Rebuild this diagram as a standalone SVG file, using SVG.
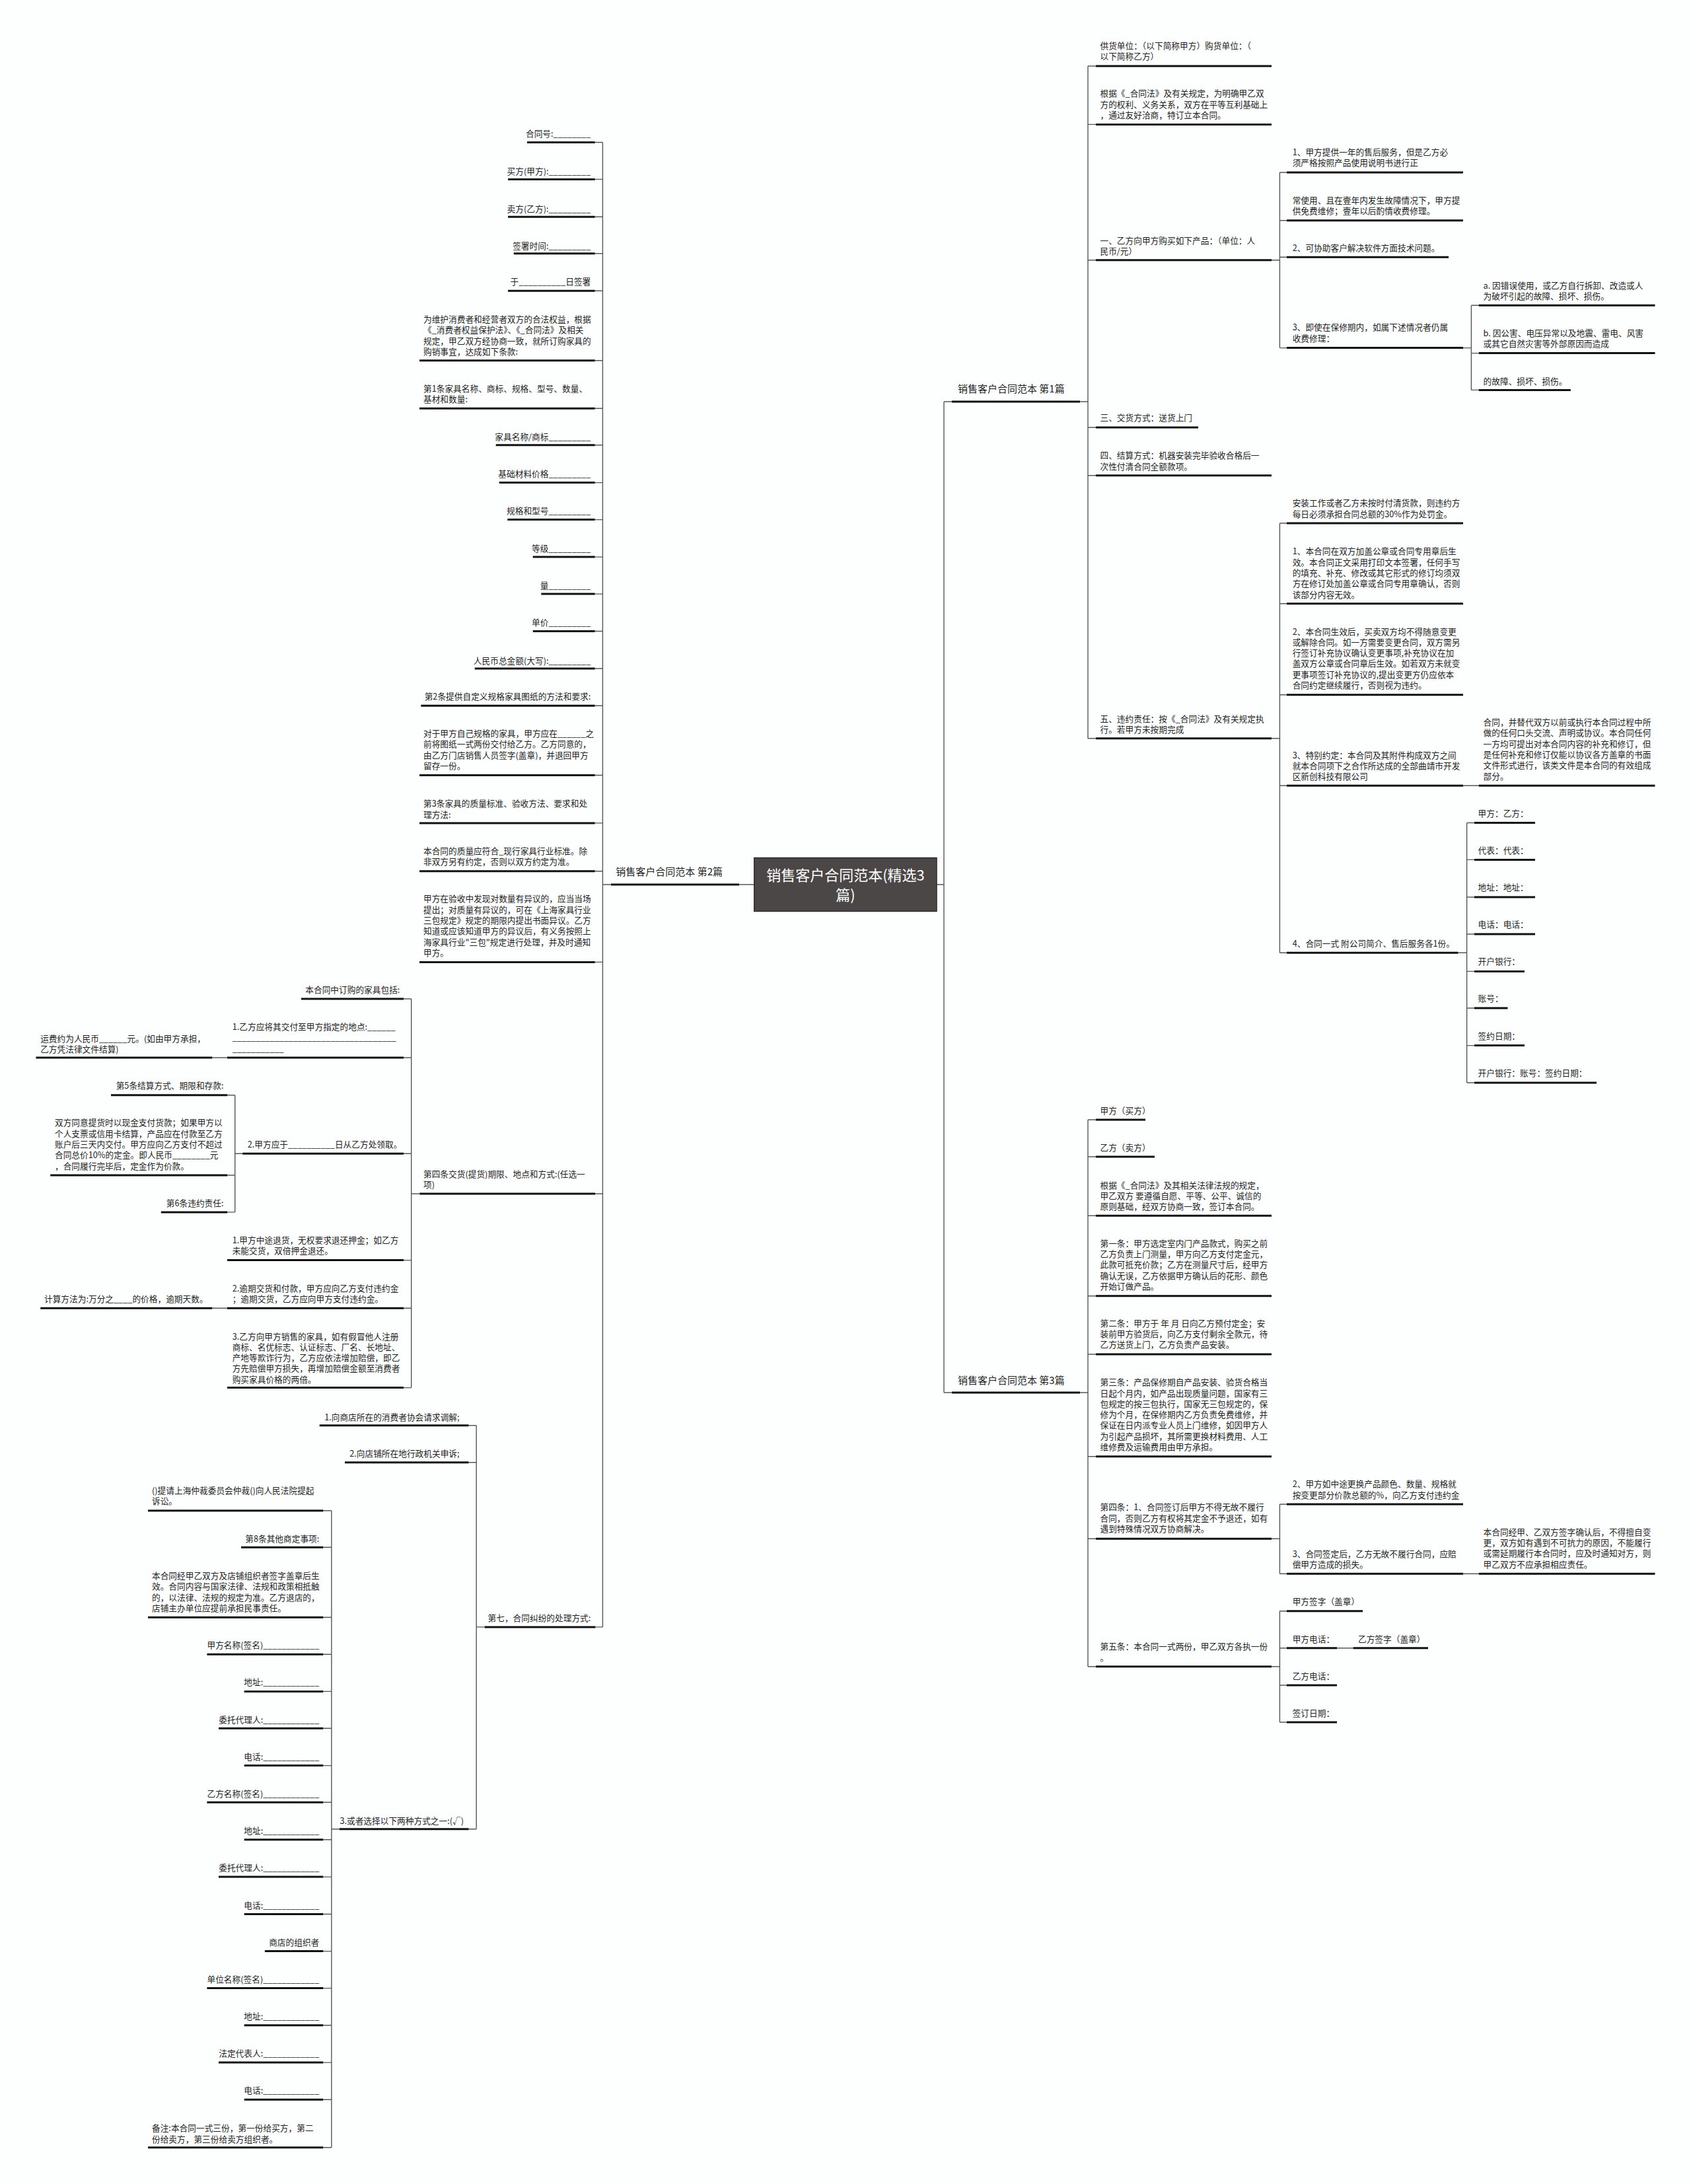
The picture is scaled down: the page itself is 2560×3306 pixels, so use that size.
<svg xmlns="http://www.w3.org/2000/svg" width="2560" height="3306" viewBox="0 0 2560 3306">
<style>
text{font-family:"Noto Sans CJK SC","Noto Sans",sans-serif;font-size:12.7px;fill:#1e1e1e}
.e{text-anchor:end}
.b{font-size:15px}
.c{font-size:22px;fill:#ffffff;text-anchor:middle}
.ul{stroke:#111;stroke-width:3;fill:none}
.cn{stroke:#555;stroke-width:1.4;fill:none}
</style>
<rect x="0" y="0" width="2560" height="3306" fill="#fdfefe"/>
<g id="connectors">
<path class="cn" d="M1141.8,1339H1119 M1418,1339H1429 M1429,608V2108 M1429,608H1441 M1429,2108H1441"/>
<path class="cn" d="M925,1339H912.4 M912.4,215.5V2462.9 M900.7,215.5H912.4 M900.7,271.4H912.4 M900.7,328.2H912.4 M900.7,383.8H912.4 M900.7,440.2H912.4 M900.7,545.8H912.4 M900.7,618.2H912.4 M900.7,673.8H912.4 M900.7,730.6H912.4 M900.7,786.6H912.4 M900.7,843.1H912.4 M900.7,899.1H912.4 M900.7,955.5H912.4 M900.7,1012H912.4 M900.7,1068.3H912.4 M900.7,1173.5H912.4 M900.7,1245.9H912.4 M900.7,1318.7H912.4 M900.7,1456.4H912.4 M900.7,1807H912.4 M900.7,2462.9H912.4"/>
<path class="cn" d="M635.3,1807H622.7 M622.7,1512V2100.6 M622.7,1512H611.2 M622.7,1601H611.2 M622.7,1746.3H611.2 M622.7,1907.6H611.2 M622.7,1980.2H611.2 M622.7,2100.6H611.2 M344,1601H321.3 M367.2,1746.3H355.7 M355.7,1657.8V1834.9 M355.7,1657.8H344.2 M355.7,1779H344.2 M355.7,1834.9H344.2 M344,1980.2H321.3"/>
<path class="cn" d="M733.7,2462.9H721.2 M721.2,2157.8V2768.8 M721.2,2157.8H709.5 M721.2,2213.7H709.5 M721.2,2768.8H709.5 M514,2768.8H501.9 M501.9,2286.8V3250.8 M501.9,2286.8H489.3 M501.9,2342.3H489.3 M501.9,2448.3H489.3 M501.9,2504.2H489.3 M501.9,2560.4H489.3 M501.9,2616.3H489.3 M501.9,2672.6H489.3 M501.9,2728.2H489.3 M501.9,2784.7H489.3 M501.9,2841.1H489.3 M501.9,2897.5H489.3 M501.9,2953.6H489.3 M501.9,3009.6H489.3 M501.9,3065.7H489.3 M501.9,3122.1H489.3 M501.9,3178.2H489.3 M501.9,3250.8H489.3"/>
<path class="cn" d="M1635,608H1647 M1647,100V1117.7 M1647,100H1659 M1647,188.4H1659 M1647,393.8H1659 M1647,647H1659 M1647,719.7H1659 M1647,1117.7H1659 M1925,393.8H1937.4 M1937.4,261V526.6 M1937.4,261H1948 M1937.4,333.7H1948 M1937.4,389.3H1948 M1937.4,526.6H1948 M2215,526.6H2227.4 M2227.4,462.3V590.4 M2227.4,462.3H2238.7 M2227.4,534.6H2238.7 M2227.4,590.4H2238.7"/>
<path class="cn" d="M1925,1117.7H1937.4 M1937.4,792V1442.2 M1937.4,792H1948 M1937.4,913.7H1948 M1937.4,1051.7H1948 M1937.4,1189.2H1948 M1937.4,1442.2H1948 M2215,1189.2H2238.7 M2207.5,1442.2H2220.6 M2220.6,1245.5V1639 M2220.6,1245.5H2232 M2220.6,1301.4H2232 M2220.6,1358H2232 M2220.6,1414H2232 M2220.6,1470.4H2232 M2220.6,1526H2232 M2220.6,1582.6H2232 M2220.6,1639H2232"/>
<path class="cn" d="M1635,2108H1647 M1647,1695V2522.7 M1647,1695H1659 M1647,1751H1659 M1647,1840.3H1659 M1647,1961.7H1659 M1647,2050H1659 M1647,2204.7H1659 M1647,2329.3H1659 M1647,2522.7H1659 M1925,2329.3H1937.4 M1937.4,2277V2382.3 M1937.4,2277H1948 M1937.4,2382.3H1948 M2215,2382.3H2238.7 M1925,2522.7H1937.4 M1937.4,2438.7V2607 M1937.4,2438.7H1948 M1937.4,2494.7H1948 M1937.4,2551H1948 M1937.4,2607H1948 M2024,2494.7H2048.6"/>
</g>
<g id="root">
<rect x="1141.8" y="1298.5" width="276.2" height="81" fill="#4b4747" stroke="#2e2b2b" stroke-width="1.5"/>
<text class="c"><tspan x="1280" y="1333">销售客户合同范本(精选3</tspan><tspan x="1280" y="1363.4">篇)</tspan></text>
</g>
<g id="branch1"><text class="b" x="1450" y="594">销售客户合同范本 第1篇</text><line class="ul" x1="1441" y1="608" x2="1635" y2="608"/></g>
<g id="branch2"><text class="b" x="932.3" y="1325">销售客户合同范本 第2篇</text><line class="ul" x1="925" y1="1339" x2="1119" y2="1339"/></g>
<g id="branch3"><text class="b" x="1450" y="2095.4">销售客户合同范本 第3篇</text><line class="ul" x1="1441" y1="2108" x2="1635" y2="2108"/></g>

<g id="r1"><text><tspan x="1665.5" y="74">供货单位：（以下简称甲方）购货单位：（</tspan><tspan x="1665.5" y="90">以下简称乙方）</tspan></text><line class="ul" x1="1659" y1="100" x2="1925" y2="100"/></g>
<g id="r2"><text><tspan x="1665.5" y="146.3">根据《_合同法》及有关规定，为明确甲乙双</tspan><tspan x="1665.5" y="162.6">方的权利、义务关系，双方在平等互利基础上</tspan><tspan x="1665.5" y="178.9">，通过友好洽商，特订立本合同。</tspan></text><line class="ul" x1="1659" y1="188.4" x2="1925" y2="188.4"/></g>
<g id="r3"><text><tspan x="1665.5" y="368.8">一、乙方向甲方购买如下产品：（单位：人</tspan><tspan x="1665.5" y="385.1">民币/元）</tspan></text><line class="ul" x1="1659" y1="393.8" x2="1925" y2="393.8"/></g>
<g id="r3a"><text><tspan x="1956.7" y="235">1、甲方提供一年的售后服务，但是乙方必</tspan><tspan x="1956.7" y="251.3">须严格按照产品使用说明书进行正</tspan></text><line class="ul" x1="1948" y1="261" x2="2215" y2="261"/></g>
<g id="r3b"><text><tspan x="1956.7" y="307.5">常使用、且在壹年内发生故障情况下，甲方提</tspan><tspan x="1956.7" y="323.8">供免费维修；壹年以后酌情收费修理。</tspan></text><line class="ul" x1="1948" y1="333.7" x2="2215" y2="333.7"/></g>
<g id="r3c"><text x="1956.7" y="379.9">2、可协助客户解决软件方面技术问题。</text><line class="ul" x1="1948" y1="389.3" x2="2193" y2="389.3"/></g>
<g id="r3d"><text><tspan x="1956.7" y="500.2">3、即使在保修期内，如属下述情况者仍属</tspan><tspan x="1956.7" y="516.5">收费修理：</tspan></text><line class="ul" x1="1948" y1="526.6" x2="2215" y2="526.6"/></g>
<g id="r3d1"><text><tspan x="2245.6" y="436.5">a. 因错误使用，或乙方自行拆卸、改造或人</tspan><tspan x="2245.6" y="452.8">为破坏引起的故障、损坏、损伤。</tspan></text><line class="ul" x1="2238.7" y1="462.3" x2="2505.5" y2="462.3"/></g>
<g id="r3d2"><text><tspan x="2245.6" y="508.9">b. 因公害、电压异常以及地震、雷电、风害</tspan><tspan x="2245.6" y="525.2">或其它自然灾害等外部原因而造成</tspan></text><line class="ul" x1="2238.7" y1="534.6" x2="2505.5" y2="534.6"/></g>
<g id="r3d3"><text x="2245.6" y="581.5">的故障、损坏、损伤。</text><line class="ul" x1="2238.7" y1="590.4" x2="2377.8" y2="590.4"/></g>
<g id="r4"><text x="1665.5" y="637.3">三、交货方式：送货上门</text><line class="ul" x1="1659" y1="647" x2="1814" y2="647"/></g>
<g id="r5"><text><tspan x="1665.5" y="694.3">四、结算方式：机器安装完毕验收合格后一</tspan><tspan x="1665.5" y="710.6">次性付清合同全额款项。</tspan></text><line class="ul" x1="1659" y1="719.7" x2="1925" y2="719.7"/></g>
<g id="r6"><text><tspan x="1665.5" y="1092.5">五、违约责任：按《_合同法》及有关规定执</tspan><tspan x="1665.5" y="1108.8">行。若甲方未按期完成</tspan></text><line class="ul" x1="1659" y1="1117.7" x2="1925" y2="1117.7"/></g>
<g id="r6a"><text><tspan x="1956.7" y="766.3">安装工作或者乙方未按时付清货款，则违约方</tspan><tspan x="1956.7" y="782.6">每日必须承担合同总额的30%作为处罚金。</tspan></text><line class="ul" x1="1948" y1="792" x2="2215" y2="792"/></g>
<g id="r6b"><text><tspan x="1956.7" y="839.3">1、本合同在双方加盖公章或合同专用章后生</tspan><tspan x="1956.7" y="855.6">效。本合同正文采用打印文本签署，任何手写</tspan><tspan x="1956.7" y="871.9">的填充、补充、修改或其它形式的修订均须双</tspan><tspan x="1956.7" y="888.2">方在修订处加盖公章或合同专用章确认，否则</tspan><tspan x="1956.7" y="904.5">该部分内容无效。</tspan></text><line class="ul" x1="1948" y1="913.7" x2="2215" y2="913.7"/></g>
<g id="r6c"><text><tspan x="1956.7" y="960.5">2、本合同生效后，买卖双方均不得随意变更</tspan><tspan x="1956.7" y="976.8">或解除合同。如一方需要变更合同，双方需另</tspan><tspan x="1956.7" y="993.1">行签订补充协议确认变更事项,补充协议在加</tspan><tspan x="1956.7" y="1009.4">盖双方公章或合同章后生效。如若双方未就变</tspan><tspan x="1956.7" y="1025.7">更事项签订补充协议的,提出变更方仍应依本</tspan><tspan x="1956.7" y="1042">合同约定继续履行，否则视为违约。</tspan></text><line class="ul" x1="1948" y1="1051.7" x2="2215" y2="1051.7"/></g>
<g id="r6d"><text><tspan x="1956.7" y="1147.8">3、特别约定：本合同及其附件构成双方之间</tspan><tspan x="1956.7" y="1164.1">就本合同项下之合作所达成的全部曲靖市开发</tspan><tspan x="1956.7" y="1180.4">区新创科技有限公司</tspan></text><line class="ul" x1="1948" y1="1189.2" x2="2215" y2="1189.2"/></g>
<g id="r6d1"><text><tspan x="2245.6" y="1098">合同，并替代双方以前或执行本合同过程中所</tspan><tspan x="2245.6" y="1114.3">做的任何口头交流、声明或协议。本合同任何</tspan><tspan x="2245.6" y="1130.6">一方均可提出对本合同内容的补充和修订，但</tspan><tspan x="2245.6" y="1146.9">是任何补充和修订仅能以协议各方盖章的书面</tspan><tspan x="2245.6" y="1163.2">文件形式进行，该类文件是本合同的有效组成</tspan><tspan x="2245.6" y="1179.5">部分。</tspan></text><line class="ul" x1="2238.7" y1="1189.2" x2="2505.5" y2="1189.2"/></g>
<g id="r6e"><text x="1956.7" y="1432.5">4、合同一式 附公司简介、售后服务各1份。</text><line class="ul" x1="1948" y1="1442.2" x2="2207.5" y2="1442.2"/></g>
<g id="r6e1"><text x="2237.6" y="1235.7">甲方：乙方：</text><line class="ul" x1="2232" y1="1245.5" x2="2324" y2="1245.5"/></g>
<g id="r6e2"><text x="2237.6" y="1292">代表：代表：</text><line class="ul" x1="2232" y1="1301.4" x2="2324" y2="1301.4"/></g>
<g id="r6e3"><text x="2237.6" y="1348.3">地址：地址：</text><line class="ul" x1="2232" y1="1358" x2="2324" y2="1358"/></g>
<g id="r6e4"><text x="2237.6" y="1404">电话：电话：</text><line class="ul" x1="2232" y1="1414" x2="2324" y2="1414"/></g>
<g id="r6e5"><text x="2237.6" y="1460.3">开户银行：</text><line class="ul" x1="2232" y1="1470.4" x2="2308" y2="1470.4"/></g>
<g id="r6e6"><text x="2237.6" y="1516.2">账号：</text><line class="ul" x1="2232" y1="1526" x2="2282.5" y2="1526"/></g>
<g id="r6e7"><text x="2237.6" y="1572.9">签约日期：</text><line class="ul" x1="2232" y1="1582.6" x2="2308" y2="1582.6"/></g>
<g id="r6e8"><text x="2237.6" y="1629.2">开户银行：账号：签约日期：</text><line class="ul" x1="2232" y1="1639" x2="2417" y2="1639"/></g>

<g id="t1"><text x="1665.5" y="1685.5">甲方（买方）</text><line class="ul" x1="1659" y1="1695" x2="1734" y2="1695"/></g>
<g id="t2"><text x="1665.5" y="1742.2">乙方（卖方）</text><line class="ul" x1="1659" y1="1751" x2="1748" y2="1751"/></g>
<g id="t3"><text><tspan x="1665.5" y="1798.5">根据《_合同法》及其相关法律法规的规定，</tspan><tspan x="1665.5" y="1814.8">甲乙双方 要遵循自愿、平等、公平、诚信的</tspan><tspan x="1665.5" y="1831.1">原则基础，经双方协商一致，签订本合同。</tspan></text><line class="ul" x1="1659" y1="1840.3" x2="1925" y2="1840.3"/></g>
<g id="t4"><text><tspan x="1665.5" y="1886.8">第一条：甲方选定室内门产品款式，购买之前</tspan><tspan x="1665.5" y="1903.1">乙方负责上门测量，甲方向乙方支付定金元，</tspan><tspan x="1665.5" y="1919.4">此款可抵充价款；乙方在测量尺寸后，经甲方</tspan><tspan x="1665.5" y="1935.7">确认无误，乙方依据甲方确认后的花形、颜色</tspan><tspan x="1665.5" y="1952">开始订做产品。</tspan></text><line class="ul" x1="1659" y1="1961.7" x2="1925" y2="1961.7"/></g>
<g id="t5"><text><tspan x="1665.5" y="2007.8">第二条：甲方于 年 月 日向乙方预付定金；安</tspan><tspan x="1665.5" y="2024.1">装前甲方验货后，向乙方支付剩余全款元，待</tspan><tspan x="1665.5" y="2040.4">乙方送货上门，乙方负责产品安装。</tspan></text><line class="ul" x1="1659" y1="2050" x2="1925" y2="2050"/></g>
<g id="t6"><text><tspan x="1665.5" y="2097.2">第三条：产品保修期自产品安装、验货合格当</tspan><tspan x="1665.5" y="2113.5">日起个月内，如产品出现质量问题，国家有三</tspan><tspan x="1665.5" y="2129.8">包规定的按三包执行，国家无三包规定的，保</tspan><tspan x="1665.5" y="2146.1">修为个月，在保修期内乙方负责免费维修，并</tspan><tspan x="1665.5" y="2162.4">保证在日内派专业人员上门维修，如因甲方人</tspan><tspan x="1665.5" y="2178.7">为引起产品损坏，其所需更换材料费用、人工</tspan><tspan x="1665.5" y="2195">维修费及运输费用由甲方承担。</tspan></text><line class="ul" x1="1659" y1="2204.7" x2="1925" y2="2204.7"/></g>
<g id="t7"><text><tspan x="1665.5" y="2286.2">第四条：1、合同签订后甲方不得无故不履行</tspan><tspan x="1665.5" y="2302.5">合同，否则乙方有权将其定金不予退还，如有</tspan><tspan x="1665.5" y="2318.8">遇到特殊情况双方协商解决。</tspan></text><line class="ul" x1="1659" y1="2329.3" x2="1925" y2="2329.3"/></g>
<g id="t7a"><text><tspan x="1956.7" y="2251.2">2、甲方如中途更换产品颜色、数量、规格就</tspan><tspan x="1956.7" y="2267.5">按变更部分价款总额的%，向乙方支付违约金</tspan></text><line class="ul" x1="1948" y1="2277" x2="2215" y2="2277"/></g>
<g id="t7b"><text><tspan x="1956.7" y="2356.8">3、合同签定后，乙方无故不履行合同，应赔</tspan><tspan x="1956.7" y="2373.1">偿甲方造成的损失。</tspan></text><line class="ul" x1="1948" y1="2382.3" x2="2215" y2="2382.3"/></g>
<g id="t7b1"><text><tspan x="2245.6" y="2323.8">本合同经甲、乙双方签字确认后，不得擅自变</tspan><tspan x="2245.6" y="2340.1">更，双方如有遇到不可抗力的原因，不能履行</tspan><tspan x="2245.6" y="2356.4">或需延期履行本合同时，应及时通知对方，则</tspan><tspan x="2245.6" y="2372.7">甲乙双方不应承担相应责任。</tspan></text><line class="ul" x1="2238.7" y1="2382.3" x2="2505.5" y2="2382.3"/></g>
<g id="t8"><text><tspan x="1665.5" y="2497.2">第五条：本合同一式两份，甲乙双方各执一份</tspan><tspan x="1665.5" y="2513.5">。</tspan></text><line class="ul" x1="1659" y1="2522.7" x2="1925" y2="2522.7"/></g>
<g id="t8a"><text x="1956.7" y="2429.2">甲方签字（盖章）</text><line class="ul" x1="1948" y1="2438.7" x2="2063" y2="2438.7"/></g>
<g id="t8b"><text x="1956.7" y="2485.5">甲方电话：</text><line class="ul" x1="1948" y1="2494.7" x2="2024" y2="2494.7"/></g>
<g id="t8b1"><text x="2056" y="2485.5">乙方签字（盖章）</text><line class="ul" x1="2048.6" y1="2494.7" x2="2162" y2="2494.7"/></g>
<g id="t8c"><text x="1956.7" y="2541.8">乙方电话：</text><line class="ul" x1="1948" y1="2551" x2="2024" y2="2551"/></g>
<g id="t8d"><text x="1956.7" y="2598.2">签订日期：</text><line class="ul" x1="1948" y1="2607" x2="2024" y2="2607"/></g>

<g id="l1"><text class="e" x="894.3" y="207.3">合同号:________</text><line class="ul" x1="798" y1="215.5" x2="900.7" y2="215.5"/></g>
<g id="l2"><text class="e" x="894.3" y="263.7">买方(甲方):_________</text><line class="ul" x1="769" y1="271.4" x2="900.7" y2="271.4"/></g>
<g id="l3"><text class="e" x="894.3" y="320.5">卖方(乙方):_________</text><line class="ul" x1="769" y1="328.2" x2="900.7" y2="328.2"/></g>
<g id="l4"><text class="e" x="894.3" y="376.5">签署时间:_________</text><line class="ul" x1="777.7" y1="383.8" x2="900.7" y2="383.8"/></g>
<g id="l5"><text class="e" x="894.3" y="431.2">于__________日签署</text><line class="ul" x1="769" y1="440.2" x2="900.7" y2="440.2"/></g>
<g id="l6"><text><tspan x="641" y="488">为维护消费者和经营者双方的合法权益，根据</tspan><tspan x="641" y="504.3">《_消费者权益保护法》、《_合同法》及相关</tspan><tspan x="641" y="520.6">规定，甲乙双方经协商一致，就所订购家具的</tspan><tspan x="641" y="536.9">购销事宜，达成如下条款:</tspan></text><line class="ul" x1="635" y1="545.8" x2="900.7" y2="545.8"/></g>
<g id="l7"><text><tspan x="641" y="592.6">第1条家具名称、商标、规格、型号、数量、</tspan><tspan x="641" y="608.9">基材和数量:</tspan></text><line class="ul" x1="635" y1="618.2" x2="900.7" y2="618.2"/></g>
<g id="l8"><text class="e" x="894.3" y="665.7">家具名称/商标_________</text><line class="ul" x1="750.7" y1="673.8" x2="900.7" y2="673.8"/></g>
<g id="l9"><text class="e" x="894.3" y="721.6">基础材料价格_________</text><line class="ul" x1="755.7" y1="730.6" x2="900.7" y2="730.6"/></g>
<g id="l10"><text class="e" x="894.3" y="777.6">规格和型号_________</text><line class="ul" x1="768.3" y1="786.6" x2="900.7" y2="786.6"/></g>
<g id="l11"><text class="e" x="894.3" y="835">等级_________</text><line class="ul" x1="806.7" y1="843.1" x2="900.7" y2="843.1"/></g>
<g id="l12"><text class="e" x="894.3" y="891">量_________</text><line class="ul" x1="819.3" y1="899.1" x2="900.7" y2="899.1"/></g>
<g id="l13"><text class="e" x="894.3" y="947.4">单价_________</text><line class="ul" x1="806.7" y1="955.5" x2="900.7" y2="955.5"/></g>
<g id="l14"><text class="e" x="894.3" y="1004.5">人民币总金额(大写):_________</text><line class="ul" x1="718.7" y1="1012" x2="900.7" y2="1012"/></g>
<g id="l15"><text class="e" x="894.3" y="1058.5">第2条提供自定义规格家具图纸的方法和要求:</text><line class="ul" x1="637.3" y1="1068.3" x2="900.7" y2="1068.3"/></g>
<g id="l16"><text><tspan x="641" y="1114.9">对于甲方自己规格的家具，甲方应在______之</tspan><tspan x="641" y="1131.2">前将图纸一式两份交付给乙方。乙方同意的，</tspan><tspan x="641" y="1147.5">由乙方门店销售人员签字(盖章)，并退回甲方</tspan><tspan x="641" y="1163.8">留存一份。</tspan></text><line class="ul" x1="635" y1="1173.5" x2="900.7" y2="1173.5"/></g>
<g id="l17"><text><tspan x="641" y="1221.4">第3条家具的质量标准、验收方法、要求和处</tspan><tspan x="641" y="1237.7">理方法:</tspan></text><line class="ul" x1="635" y1="1245.9" x2="900.7" y2="1245.9"/></g>
<g id="l18"><text><tspan x="641" y="1292.5">本合同的质量应符合_现行家具行业标准。除</tspan><tspan x="641" y="1308.8">非双方另有约定，否则以双方约定为准。</tspan></text><line class="ul" x1="635" y1="1318.7" x2="900.7" y2="1318.7"/></g>
<g id="l19"><text><tspan x="641" y="1365.3">甲方在验收中发现对数量有异议的，应当当场</tspan><tspan x="641" y="1381.6">提出；对质量有异议的，可在《上海家具行业</tspan><tspan x="641" y="1397.9">三包规定》规定的期限内提出书面异议。乙方</tspan><tspan x="641" y="1414.2">知道或应该知道甲方的异议后，有义务按照上</tspan><tspan x="641" y="1430.5">海家具行业"三包"规定进行处理，并及时通知</tspan><tspan x="641" y="1446.8">甲方。</tspan></text><line class="ul" x1="635" y1="1456.4" x2="900.7" y2="1456.4"/></g>
<g id="l20"><text><tspan x="641" y="1781.5">第四条交货(提货)期限、地点和方式:(任选一</tspan><tspan x="641" y="1797.8">项)</tspan></text><line class="ul" x1="635.3" y1="1807" x2="901" y2="1807"/></g>
<g id="l20a"><text class="e" x="605.4" y="1503.1">本合同中订购的家具包括:</text><line class="ul" x1="456" y1="1512" x2="611.2" y2="1512"/></g>
<g id="l20b"><text><tspan x="351.7" y="1559">1.乙方应将其交付至甲方指定的地点:______</tspan><tspan x="351.7" y="1575.3">___________________________________</tspan><tspan x="351.7" y="1591.6">___________</tspan></text><line class="ul" x1="344" y1="1601" x2="611.2" y2="1601"/></g>
<g id="l20b1"><text><tspan x="61.2" y="1576.5">运费约为人民币______元。(如由甲方承担，</tspan><tspan x="61.2" y="1592.8">乙方凭法律文件结算)</tspan></text><line class="ul" x1="54.4" y1="1601" x2="321.3" y2="1601"/></g>
<g id="l20c"><text x="374.7" y="1736.9">2.甲方应于__________日从乙方处领取。</text><line class="ul" x1="367.2" y1="1746.3" x2="611.2" y2="1746.3"/></g>
<g id="l20c1"><text class="e" x="338.5" y="1648.4">第5条结算方式、期限和存款:</text><line class="ul" x1="168" y1="1657.8" x2="344.2" y2="1657.8"/></g>
<g id="l20c2"><text><tspan x="83" y="1704.3">双方同意提货时以现金支付货款；如果甲方以</tspan><tspan x="83" y="1720.6">个人支票或信用卡结算，产品应在付款至乙方</tspan><tspan x="83" y="1736.9">账户后三天内交付。甲方应向乙方支付不超过</tspan><tspan x="83" y="1753.2">合同总价10%的定金。即人民币________元</tspan><tspan x="83" y="1769.5">，合同履行完毕后，定金作为价款。</tspan></text><line class="ul" x1="76.2" y1="1779" x2="344.2" y2="1779"/></g>
<g id="l20c3"><text class="e" x="338.5" y="1825.5">第6条违约责任:</text><line class="ul" x1="243.8" y1="1834.9" x2="344.2" y2="1834.9"/></g>
<g id="l20d"><text><tspan x="351.7" y="1881.8">1.甲方中途退货，无权要求退还押金；如乙方</tspan><tspan x="351.7" y="1898.1">未能交货，双倍押金退还。</tspan></text><line class="ul" x1="344" y1="1907.6" x2="611.2" y2="1907.6"/></g>
<g id="l20e"><text><tspan x="351.7" y="1954.9">2.逾期交货和付款，甲方应向乙方支付违约金</tspan><tspan x="351.7" y="1971.2">；逾期交货，乙方应向甲方支付违约金。</tspan></text><line class="ul" x1="344" y1="1980.2" x2="611.2" y2="1980.2"/></g>
<g id="l20e1"><text x="67" y="1971.2">计算方法为:万分之____的价格，逾期天数。</text><line class="ul" x1="61.2" y1="1980.2" x2="321.3" y2="1980.2"/></g>
<g id="l20f"><text><tspan x="351.7" y="2027.5">3.乙方向甲方销售的家具，如有假冒他人注册</tspan><tspan x="351.7" y="2043.8">商标、名优标志、认证标志、厂名、长地址、</tspan><tspan x="351.7" y="2060.1">产地等欺诈行为，乙方应依法增加赔偿，即乙</tspan><tspan x="351.7" y="2076.4">方先赔偿甲方损失，再增加赔偿金额至消费者</tspan><tspan x="351.7" y="2092.7">购买家具价格的两倍。</tspan></text><line class="ul" x1="344" y1="2100.6" x2="611.2" y2="2100.6"/></g>
<g id="l21"><text class="e" x="894.3" y="2454.3">第七，合同纠纷的处理方式:</text><line class="ul" x1="733.7" y1="2462.9" x2="901.3" y2="2462.9"/></g>
<g id="l21a"><text class="e" x="695.6" y="2149.7">1.向商店所在的消费者协会请求调解;</text><line class="ul" x1="483.7" y1="2157.8" x2="709.5" y2="2157.8"/></g>
<g id="l21b"><text class="e" x="695.6" y="2205.2">2.向店铺所在地行政机关申诉;</text><line class="ul" x1="522" y1="2213.7" x2="709.5" y2="2213.7"/></g>
<g id="l21c"><text class="e" x="702" y="2760.5">3.或者选择以下两种方式之一:(√)</text><line class="ul" x1="514" y1="2768.8" x2="709.5" y2="2768.8"/></g>
<g id="l21c1"><text><tspan x="230" y="2261.1">()提请上海仲裁委员会仲裁()向人民法院提起</tspan><tspan x="230" y="2277.4">诉讼。</tspan></text><line class="ul" x1="224" y1="2286.8" x2="489.3" y2="2286.8"/></g>
<g id="l21c2"><text class="e" x="483.3" y="2333.8">第8条其他商定事项:</text><line class="ul" x1="365" y1="2342.3" x2="489.3" y2="2342.3"/></g>
<g id="l21c3"><text><tspan x="230" y="2390">本合同经甲乙双方及店铺组织者签字盖章后生</tspan><tspan x="230" y="2406.3">效。合同内容与国家法律、法规和政策相抵触</tspan><tspan x="230" y="2422.6">的，以法律、法规的规定为准。乙方退店的，</tspan><tspan x="230" y="2438.9">店铺主办单位应提前承担民事责任。</tspan></text><line class="ul" x1="224" y1="2448.3" x2="489.3" y2="2448.3"/></g>
<g id="l21c4"><text class="e" x="483.3" y="2495.3">甲方名称(签名)____________</text><line class="ul" x1="313.4" y1="2504.2" x2="489.3" y2="2504.2"/></g>
<g id="l21c5"><text class="e" x="483.3" y="2550.8">地址:____________</text><line class="ul" x1="369.7" y1="2560.4" x2="489.3" y2="2560.4"/></g>
<g id="l21c6"><text class="e" x="483.3" y="2607.5">委托代理人:____________</text><line class="ul" x1="331" y1="2616.3" x2="489.3" y2="2616.3"/></g>
<g id="l21c7"><text class="e" x="483.3" y="2663.7">电话:____________</text><line class="ul" x1="369.7" y1="2672.6" x2="489.3" y2="2672.6"/></g>
<g id="l21c8"><text class="e" x="483.3" y="2720">乙方名称(签名)____________</text><line class="ul" x1="313.4" y1="2728.2" x2="489.3" y2="2728.2"/></g>
<g id="l21c9"><text class="e" x="483.3" y="2776">地址:____________</text><line class="ul" x1="369.7" y1="2784.7" x2="489.3" y2="2784.7"/></g>
<g id="l21c10"><text class="e" x="483.3" y="2832.1">委托代理人:____________</text><line class="ul" x1="331" y1="2841.1" x2="489.3" y2="2841.1"/></g>
<g id="l21c11"><text class="e" x="483.3" y="2888.5">电话:____________</text><line class="ul" x1="369.7" y1="2897.5" x2="489.3" y2="2897.5"/></g>
<g id="l21c12"><text class="e" x="483.3" y="2944.9">商店的组织者</text><line class="ul" x1="400.9" y1="2953.6" x2="489.3" y2="2953.6"/></g>
<g id="l21c13"><text class="e" x="483.3" y="3001">单位名称(签名)____________</text><line class="ul" x1="313.4" y1="3009.6" x2="489.3" y2="3009.6"/></g>
<g id="l21c14"><text class="e" x="483.3" y="3057">地址:____________</text><line class="ul" x1="369.7" y1="3065.7" x2="489.3" y2="3065.7"/></g>
<g id="l21c15"><text class="e" x="483.3" y="3113.1">法定代表人:____________</text><line class="ul" x1="331" y1="3122.1" x2="489.3" y2="3122.1"/></g>
<g id="l21c16"><text class="e" x="483.3" y="3169.1">电话:____________</text><line class="ul" x1="369.7" y1="3178.2" x2="489.3" y2="3178.2"/></g>
<g id="l21c17"><text><tspan x="230" y="3226.3">备注:本合同一式三份，第一份给买方，第二</tspan><tspan x="230" y="3242.6">份给卖方，第三份给卖方组织者。</tspan></text><line class="ul" x1="224" y1="3250.8" x2="489.3" y2="3250.8"/></g>
</svg>
